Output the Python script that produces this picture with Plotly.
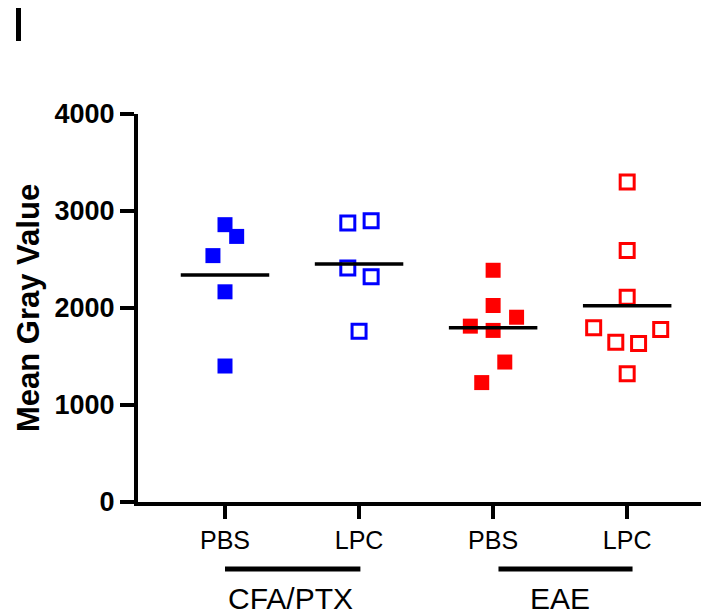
import plotly.graph_objects as go

# ---- data ----
tick_labels = ["PBS", "LPC", "PBS", "LPC"]
group_labels = ["CFA/PTX", "EAE"]

cfa_pbs = [2859, 2738, 2540, 2167, 1402]
cfa_pbs_dx = [0.0, 0.087, -0.09, 0.0, 0.0]

cfa_lpc = [2876, 2900, 2413, 2321, 1761]
cfa_lpc_dx = [-0.084, 0.09, -0.084, 0.09, 0.0]

eae_pbs = [2389, 2026, 1905, 1813, 1769, 1443, 1231]
eae_pbs_dx = [0.0, 0.0, 0.175, -0.17, 0.0, 0.087, -0.085]

eae_lpc = [3298, 2594, 2111, 1796, 1779, 1648, 1635, 1323]
eae_lpc_dx = [0.0, 0.0, 0.0, -0.25, 0.25, -0.085, 0.085, 0.0]

groups = [
    (0, cfa_pbs, cfa_pbs_dx, "#0000FF", True),
    (1, cfa_lpc, cfa_lpc_dx, "#0000FF", False),
    (2, eae_pbs, eae_pbs_dx, "#FF0000", True),
    (3, eae_lpc, eae_lpc_dx, "#FF0000", False),
]

FONT = "Liberation Sans, Arial, Helvetica, sans-serif"

fig = go.Figure()
for pos, vals, dx, color, filled in groups:
    xs = [pos + d for d in dx]
    if filled:
        marker = dict(symbol="square", size=15, color=color, line=dict(width=0))
    else:
        marker = dict(symbol="square-open", size=14, color=color, line=dict(width=3, color=color))
    fig.add_trace(go.Scatter(x=xs, y=vals, mode="markers", marker=marker,
                             showlegend=False, hoverinfo="y", cliponaxis=False))
    mean = sum(vals) / len(vals)
    fig.add_trace(go.Scatter(x=[pos - 0.33, pos + 0.33], y=[mean, mean], mode="lines",
                             line=dict(color="black", width=3.5), showlegend=False,
                             hoverinfo="skip"))

L, T, B = 130, 106, 120
plot_h = 614 - T - B

fig.update_layout(
    width=709, height=614,
    margin=dict(l=L, r=0, t=T, b=B),
    plot_bgcolor="white", paper_bgcolor="white",
    font=dict(family=FONT, color="black"),
    xaxis=dict(range=[-0.649, 3.67], tickvals=[0, 1, 2, 3], ticktext=tick_labels,
               showline=True, linewidth=4, linecolor="black", ticks="outside",
               ticklen=13, tickwidth=4, tickcolor="black", showgrid=False, zeroline=False,
               tickfont=dict(size=25, family=FONT)),
    yaxis=dict(range=[0, 4000], tickvals=[0, 1000, 2000, 3000, 4000],
               showline=True, linewidth=4, linecolor="black", ticks="outside",
               ticklen=14, tickwidth=4, tickcolor="black", showgrid=False, zeroline=False,
               tickfont=dict(size=27, family=FONT, weight="bold")),
)

plot_w = 709 - L
# y-axis title (page x ~28)
fig.add_annotation(text="<b>Mean Gray Value</b>", textangle=-90, xref="paper", yref="paper",
                   x=(28 - 8 - L) / plot_w, y=0.5, xanchor="center", yanchor="middle",
                   showarrow=False, font=dict(size=31, family=FONT))

# group bars and labels
for (a, b), lab in zip([(0, 1.01), (2.04, 3.04)], group_labels):
    fig.add_shape(type="line", xref="x", yref="paper", x0=a, x1=b,
                  y0=(494 - 561) / plot_h, y1=(494 - 561) / plot_h,
                  line=dict(color="black", width=5))
for pos, lab in zip([0.49, 2.5], group_labels):
    fig.add_annotation(text=lab, xref="x", yref="paper", x=pos, y=(494 - 590) / plot_h,
                       xanchor="center", yanchor="middle", showarrow=False,
                       font=dict(size=30, family=FONT))

# panel label
fig.add_annotation(text="I", xref="paper", yref="paper",
                   x=(18 - 8 - L) / plot_w, y=(494 - 14) / plot_h, xanchor="center", yanchor="middle",
                   showarrow=False, font=dict(size=54, family=FONT))

fig.write_html("out.html")
